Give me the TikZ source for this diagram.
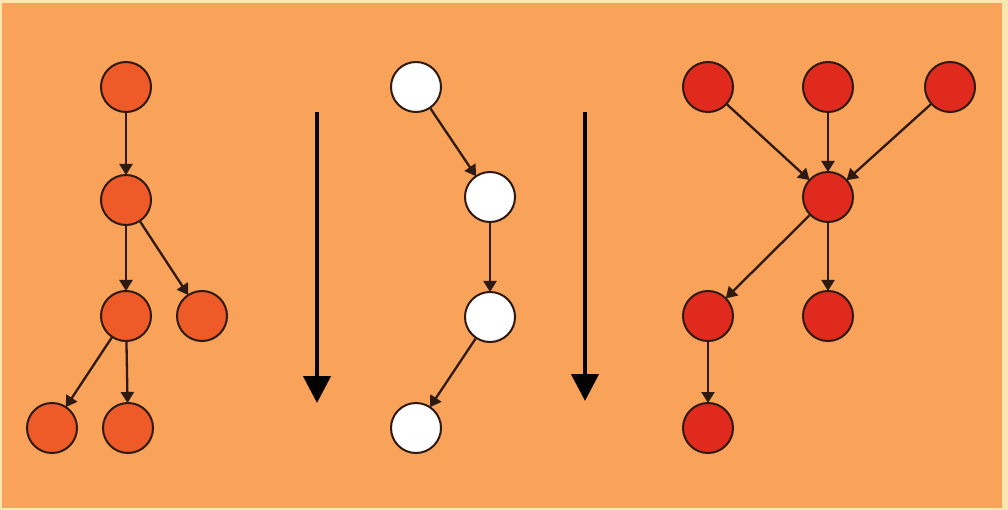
\documentclass[tikz,border=0pt]{standalone}
\usetikzlibrary{arrows.meta}
\definecolor{bgpale}{HTML}{FBE6B0}
\definecolor{bgor}{HTML}{F8A25A}
\definecolor{nodeor}{HTML}{EE5A28}
\definecolor{nodered}{HTML}{E02A1E}
\definecolor{ink}{HTML}{2E1A10}
\tikzset{
  vtx/.style={circle, draw=ink, line width=2pt, minimum size=50pt, inner sep=0pt},
  orv/.style={vtx, fill=nodeor},
  whv/.style={vtx, fill=white},
  rdv/.style={vtx, fill=nodered},
  edge/.style={draw=ink, line width=2.3pt, -{Triangle[width=13pt,length=11pt]}, shorten >=-1pt},
  bigarrow/.style={draw=black!90!ink, line width=4.5pt, -{Triangle[width=27pt,length=27pt]}},
}
\begin{document}
\begin{tikzpicture}[x=1pt,y=-1pt]
\fill[bgpale] (0,0) rectangle (1008,510);
\fill[bgor] (2,3) rectangle (1002,508);
\useasboundingbox (0,0) rectangle (1008,510);
% left tree
\node[orv] (a) at (126,87) {};
\node[orv] (b) at (126,200) {};
\node[orv] (c) at (126,316) {};
\node[orv] (d) at (202,316) {};
\node[orv] (e) at (52,428) {};
\node[orv] (f) at (128,428) {};
\draw[edge] (a) -- (b);
\draw[edge] (b) -- (c);
\draw[edge] (b) -- (d);
\draw[edge] (c) -- (e);
\draw[edge] (c) -- (f);
% big arrows
\coordinate (p1) at (317,112);
\coordinate (q1) at (317,403);
\coordinate (p2) at (585,112);
\coordinate (q2) at (585,401);
\draw[bigarrow] (p1) -- (q1);
\draw[bigarrow] (p2) -- (q2);
% middle chain
\node[whv] (w1) at (416,87) {};
\node[whv] (w2) at (490,197) {};
\node[whv] (w3) at (490,317) {};
\node[whv] (w4) at (416,428) {};
\draw[edge] (w1) -- (w2);
\draw[edge] (w2) -- (w3);
\draw[edge] (w3) -- (w4);
% right graph
\node[rdv] (r1) at (708,87) {};
\node[rdv] (r2) at (828,87) {};
\node[rdv] (r3) at (950,87) {};
\node[rdv] (r4) at (828,197) {};
\node[rdv] (r5) at (708,316) {};
\node[rdv] (r6) at (828,316) {};
\node[rdv] (r7) at (708,428) {};
\draw[edge] (r1) -- (r4);
\draw[edge] (r2) -- (r4);
\draw[edge] (r3) -- (r4);
\draw[edge] (r4) -- (r5);
\draw[edge] (r4) -- (r6);
\draw[edge] (r5) -- (r7);
\end{tikzpicture}
\end{document}
